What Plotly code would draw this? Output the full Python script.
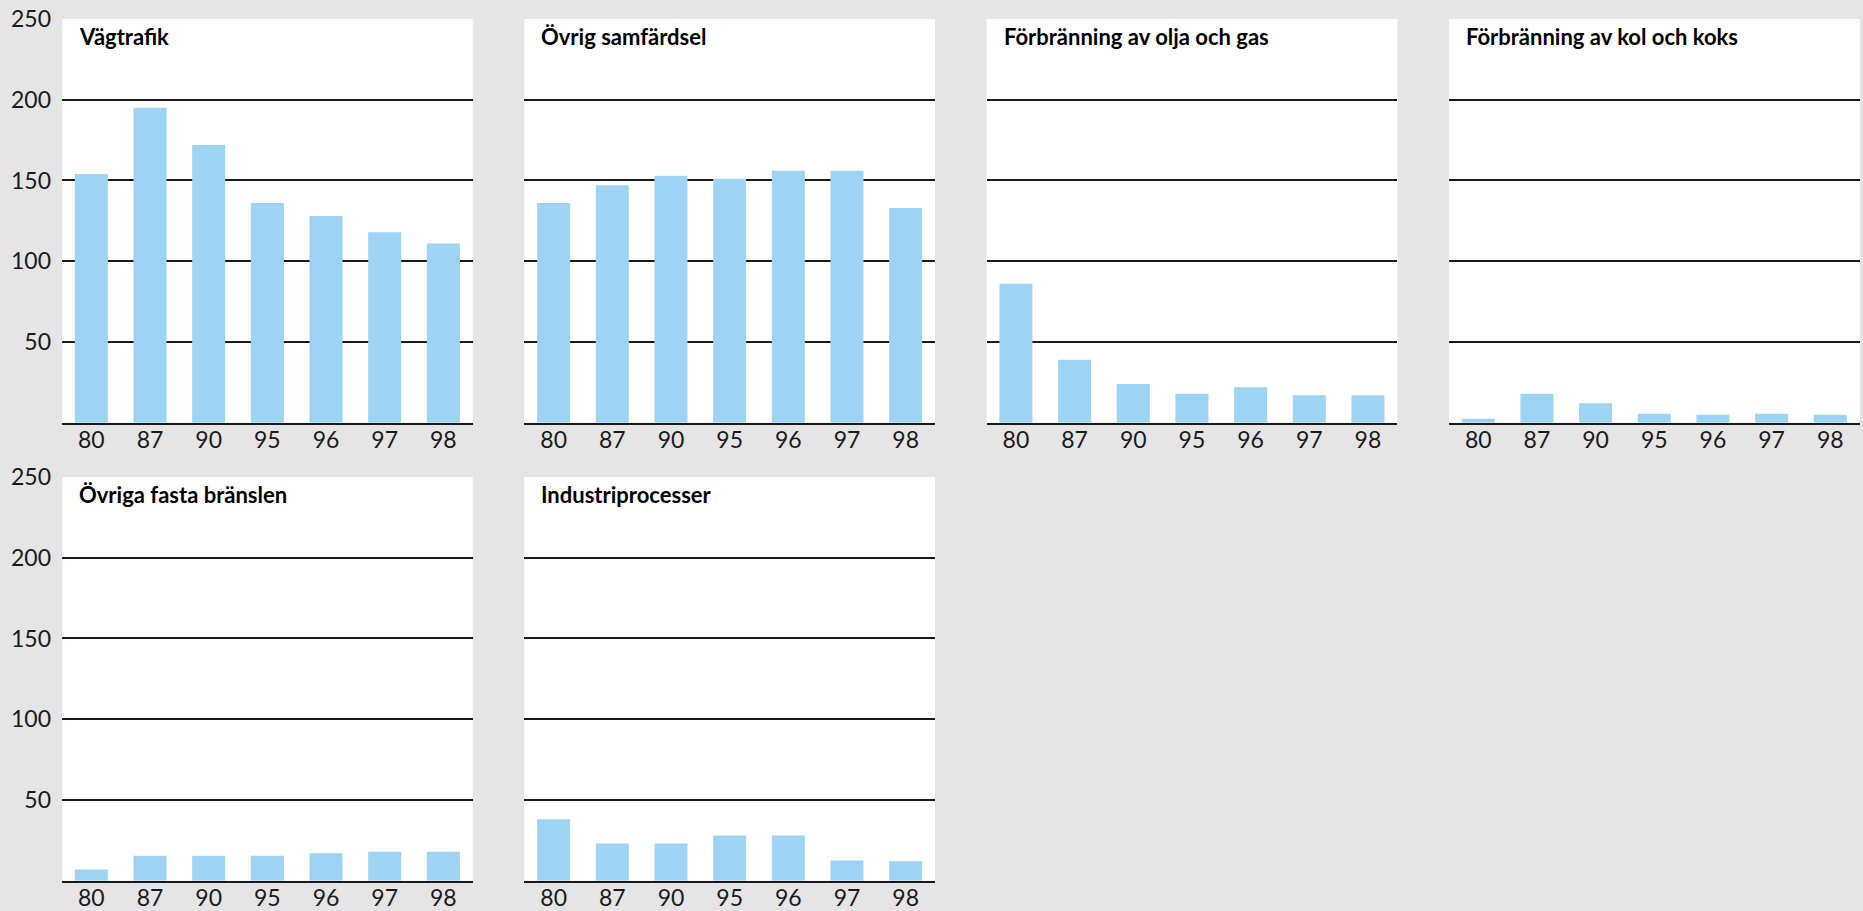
import plotly.graph_objects as go

# ---- data ----
years = ["80", "87", "90", "95", "96", "97", "98"]
titles = [
    "Vägtrafik",
    "Övrig samfärdsel",
    "Förbränning av olja och gas",
    "Förbränning av kol och koks",
    "Övriga fasta bränslen",
    "Industriprocesser",
]
vagtrafik = [154, 195, 172, 136, 128, 118, 111]
ovrig_samfardsel = [136, 147, 153, 151, 156, 156, 133]
olja_gas = [86, 39, 24, 18, 22, 17, 17]
kol_koks = [2.5, 18, 12, 5.5, 5, 5.5, 5]
fasta_branslen = [7, 15.5, 15.5, 15.5, 17, 18, 18]
industriprocesser = [38, 23, 23, 28, 28, 12.5, 12]
y_ticks = [50, 100, 150, 200, 250]

series = [vagtrafik, ovrig_samfardsel, olja_gas, kol_koks, fasta_branslen, industriprocesser]
positions = [(0, 0), (0, 1), (0, 2), (0, 3), (1, 0), (1, 1)]

# ---- layout geometry (pixels) ----
W, H = 1863, 911
col_left = [62, 524.3, 986.6, 1448.9]
pw = 410.7
row_top = [19, 477]
ph = 403.7

BAR = "#9ED3F4"
INK = "#1a1a1a"
BG = "#e5e5e5"
FONT = "Lato, sans-serif"

fig = go.Figure()
layout_axes = {}
annotations = []
for i, (title, vals, (r, c)) in enumerate(zip(titles, series, positions)):
    k = "" if i == 0 else str(i + 1)
    fig.add_trace(go.Bar(x=years, y=vals, xaxis="x" + k, yaxis="y" + k,
                         marker=dict(color=BAR, line=dict(width=0)),
                         showlegend=False, hoverinfo="x+y"))
    x0 = col_left[c] / W
    x1 = (col_left[c] + pw) / W
    y1 = 1 - row_top[r] / H
    y0 = 1 - (row_top[r] + ph) / H
    layout_axes["xaxis" + k] = dict(
        domain=[x0, x1], anchor="y" + k, type="category",
        showline=True, linecolor=INK, linewidth=2, ticks="",
        showgrid=False, zeroline=False, automargin=False,
        ticklabelstandoff=-4,
        tickfont=dict(family=FONT, size=23, color=INK),
        fixedrange=True,
    )
    layout_axes["yaxis" + k] = dict(
        domain=[y0, y1], anchor="x" + k, range=[0, 250],
        tickmode="array", tickvals=y_ticks,
        showgrid=True, gridcolor=INK, gridwidth=2,
        zeroline=False, showline=False, ticks="", automargin=False,
        showticklabels=(c == 0), ticklabelstandoff=10,
        tickfont=dict(family=FONT, size=23, color=INK),
        fixedrange=True,
    )
    annotations.append(dict(
        text="<b>" + title + "</b>", xref="x" + k + " domain", yref="y" + k + " domain",
        x=0, y=1, xanchor="left", yanchor="middle", xshift=15, yshift=-18,
        showarrow=False, font=dict(family=FONT, size=22, color="#000000"),
    ))

fig.update_layout(
    width=W, height=H,
    margin=dict(l=0, r=0, t=0, b=0, pad=0, autoexpand=False),
    paper_bgcolor=BG, plot_bgcolor="#ffffff",
    bargap=0.4375,
    annotations=annotations,
    **layout_axes,
)

fig.write_html(
    "out.html",
    config={"displayModeBar": False},
    post_script="document.body.style.margin='0';document.body.style.background='%s';"
                "document.body.style.overflow='hidden';" % BG,
)
